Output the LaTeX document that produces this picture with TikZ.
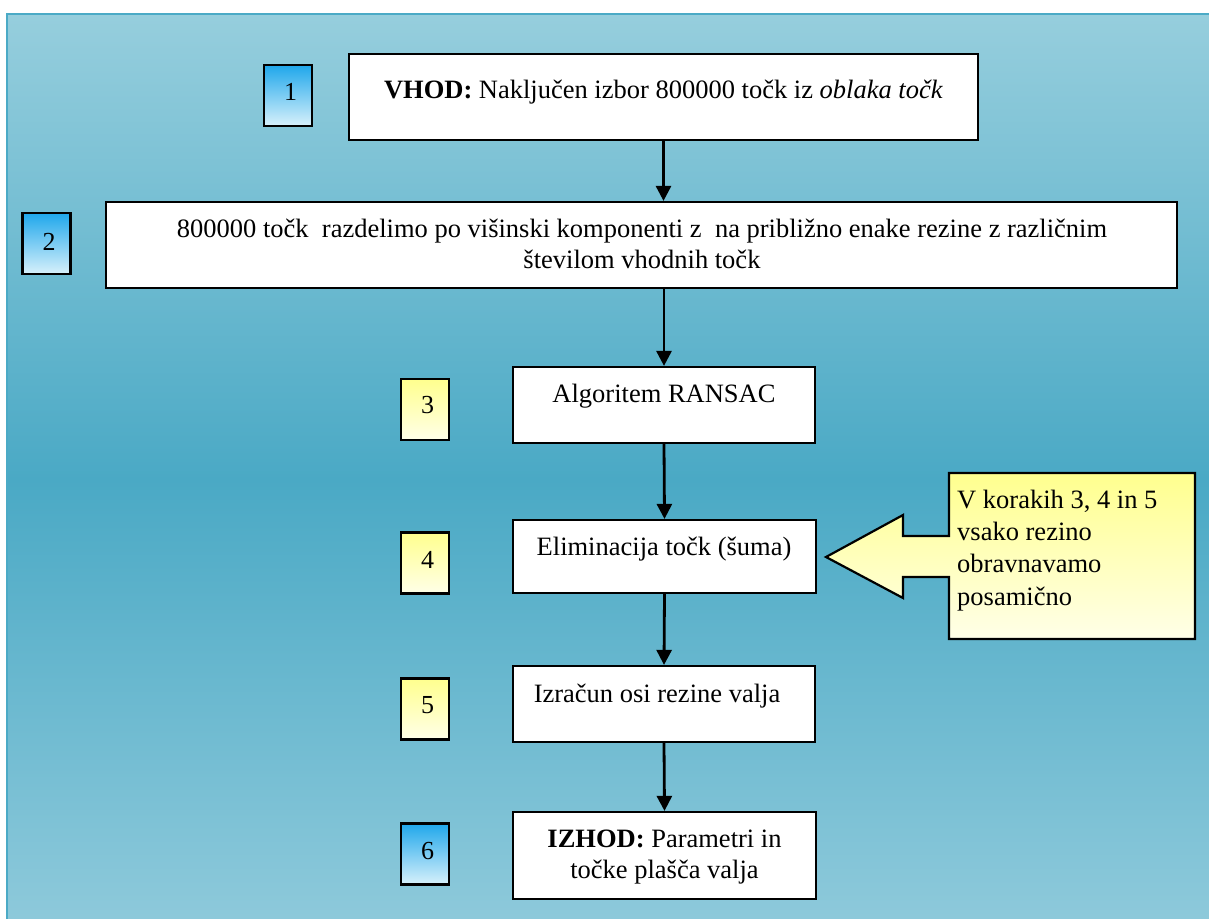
\documentclass[tikz,border=0pt]{standalone}
\usepackage{fontspec}
\setmainfont{Liberation Serif}
\usetikzlibrary{arrows.meta}

\definecolor{bgtop}{HTML}{96CEDD}
\definecolor{bgmid}{HTML}{4AA9C5}
\definecolor{bgbot}{HTML}{8FCADB}
\definecolor{frameline}{HTML}{4BAAC6}
\definecolor{bluetop}{HTML}{1FA7EB}
\definecolor{bluebot}{HTML}{D8F1FB}
\definecolor{yeltop}{HTML}{FFFF8E}
\definecolor{yelbot}{HTML}{FFFFE8}

\tikzset{
  stepbox/.style={draw=black, line width=2.2pt, fill=white, inner sep=0pt},
  bluenum/.style={draw=black, line width=2.2pt, top color=bluetop, bottom color=bluebot,
    minimum width=48pt, minimum height=61pt, inner sep=0pt},
  yelnum/.style={draw=black, line width=2.2pt, top color=yeltop, bottom color=yelbot,
    minimum width=48pt, minimum height=61pt, inner sep=0pt},
  txt/.style={anchor=base, inner sep=0pt, font=\fontsize{26.5}{31}\selectfont, align=center},
  numtxt/.style={anchor=base, inner sep=0pt, font=\fontsize{26}{31}\selectfont},
  flow/.style={line width=2.8pt, -{Triangle[length=15pt,width=15pt]}},
}

\begin{document}
\begin{tikzpicture}[x=1pt, y=-1pt]
\useasboundingbox (0,0) rectangle (1209,918);
\begin{scope}
  \clip (0,0) rectangle (1209,918);
  % page background with the framed gradient panel
  \fill[white] (0,0) rectangle (1209,918);
  \shade[top color=bgtop, bottom color=bgmid] (7,14) rectangle (1220,480);
  \shade[top color=bgmid, bottom color=bgbot] (7,479.5) rectangle (1220,930);
  \draw[frameline, line width=2.5pt] (7,930) -- (7,14) -- (1220,14);
\end{scope}

% process steps
\node[stepbox, minimum width=629pt, minimum height=86pt] (b1) at (663.5,97) {};
\node[stepbox, minimum width=1071pt, minimum height=86pt] (b2) at (641.5,245) {};
\node[stepbox, minimum width=302pt, minimum height=76pt] (b3) at (664,405) {};
\node[stepbox, minimum width=303pt, minimum height=73pt] (b4) at (664.5,556.5) {};
\node[stepbox, minimum width=302pt, minimum height=76pt] (b5) at (664,704) {};
\node[stepbox, minimum width=303pt, minimum height=87pt] (b6) at (664.5,855.5) {};

\node[txt] (t1) at (663.5,98) {\textbf{VHOD:} Naključen izbor 800000 točk iz \textit{oblaka točk}};
\node[txt] (t2) at (642,268) {800000 točk\ \ razdelimo po višinski komponenti z\ \ na približno enake rezine z različnim\\številom vhodnih točk};
\node[txt] (t3) at (664,402) {Algoritem RANSAC};
\node[txt] (t4) at (664,555) {Eliminacija točk (šuma)};
\node[txt] (t5) at (657,702) {Izračun osi rezine valja};
\node[txt] (t6) at (664.5,878) {\textbf{IZHOD:} Parametri in\\točke plašča valja};

% step numbers
\node[bluenum] (n1) at (288,95.5) {};
\node[bluenum] (n2) at (46.5,243.5) {};
\node[yelnum] (n3) at (425,409.5) {};
\node[yelnum] (n4) at (425,563) {};
\node[yelnum] (n5) at (425,709) {};
\node[bluenum] (n6) at (425,854) {};
\node[numtxt] (l1) at (290.5,100) {1};
\node[numtxt] (l2) at (49,250) {2};
\node[numtxt] (l3) at (427.5,413) {3};
\node[numtxt] (l4) at (427.5,568) {4};
\node[numtxt] (l5) at (427.5,713) {5};
\node[numtxt] (l6) at (427.5,859) {6};

% flow connectors
\draw[flow] (b1.south) -- (b1.south |- b2.north);
\draw[flow] (b3.north |- b2.south) -- (b3.north);
\draw[flow] (b3.south) -- (b4.north);
\draw[flow] (b4.south) -- (b5.north);
\draw[flow] (b5.south) -- (b6.north);

% left arrow callout
\shade[draw=black, line width=2.2pt, line join=miter, top color=yeltop, bottom color=yelbot]
  (949,473) -- (1195,473) -- (1195,639) -- (949,639) -- (949,577) -- (903,577)
  -- (903,598) -- (826,557) -- (903,515) -- (903,536) -- (949,536) -- cycle;
\node[anchor=base west, inner sep=0pt, align=left, font=\fontsize{26.5}{32.3}\selectfont] (note) at (957,605)
  {V korakih 3, 4 in 5\\vsako rezino\\obravnavamo\\posamično};
\end{tikzpicture}
\end{document}
